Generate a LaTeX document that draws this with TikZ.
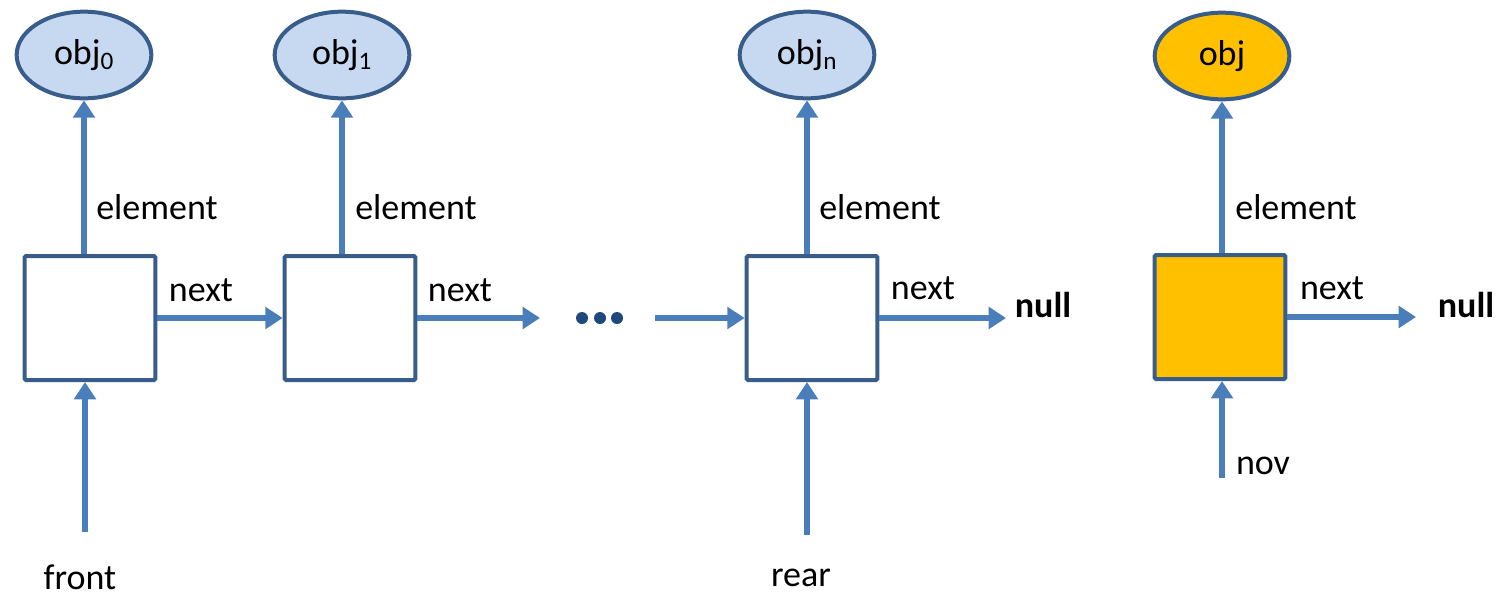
\documentclass[tikz,border=0pt]{standalone}
\usepackage{fontspec}
\setmainfont{Carlito}
\usetikzlibrary{arrows.meta,shapes.geometric}
\definecolor{ptrblue}{RGB}{74,126,187}
\definecolor{edgeblue}{RGB}{56,93,138}
\definecolor{objblue}{RGB}{198,217,241}
\definecolor{newgold}{RGB}{255,192,0}
\definecolor{dotblue}{RGB}{31,73,125}

\begin{document}
\begin{tikzpicture}[x=0.75pt,y=-0.75pt,
every node/.style={font=\fontsize{27}{32}\selectfont},
cell/.style={draw=edgeblue,line width=3pt,rounded corners=1pt,fill=white,minimum width=98pt,minimum height=93pt,inner sep=0pt},
obj/.style={ellipse,draw=edgeblue,line width=3pt,fill=objblue,minimum width=101pt,minimum height=65pt,inner sep=0pt},
ptr/.style={ptrblue,line width=4.5pt,-{Triangle[length=13pt,width=16pt]}}]
\useasboundingbox (0,0) rectangle (1501,597);
% objects
\node[obj] (O0) at (84,55) {obj\textsubscript{0}};
\node[obj] (O1) at (342,55) {obj\textsubscript{1}};
\node[obj] (On) at (807,55) {obj\textsubscript{n}};
\node[obj,fill=newgold] (Onew) at (1222,56) {obj};
% cells
\node[cell] (B0) at (90,318) {};
\node[cell] (B1) at (350,318) {};
\node[cell] (Bn) at (812,318) {};
\node[cell,fill=newgold] (Bnew) at (1220,317) {};
% labels
\node (E0) at (157,207) {element};
\node (E1) at (416,207) {element};
\node (En) at (880,207) {element};
\node (Enew) at (1296,207) {element};
\node (N0) at (201,290) {next};
\node (N1) at (460,290) {next};
\node (Nn) at (923,288) {next};
\node (Nnew) at (1332,288) {next};
\node (null1) at (1043,305) {\textbf{null}};
\node (null2) at (1466,305) {\textbf{null}};
\node (front) at (80,577) {front};
\node (rear) at (801,578) {rear};
\node (nov) at (1263,466) {nov};
\coordinate (fr) at (85,532);
\coordinate (re) at (807,535);
\coordinate (nv) at (1222,478);
\coordinate (gap1) at (540,318);
\coordinate (gap2) at (655,318);
\coordinate (end1) at (1006,318);
\coordinate (end2) at (1416,317);
% dots
\fill[dotblue] (582,318) circle (4.5pt) (600,318) circle (4.5pt) (617,318) circle (4.5pt);
% element pointers
\draw[ptr] (O0.south |- B0.north) -- (O0.south);
\draw[ptr] (O1.south |- B1.north) -- (O1.south);
\draw[ptr] (On.south |- Bn.north) -- (On.south);
\draw[ptr] (Onew.south |- Bnew.north) -- (Onew.south);
% next pointers
\draw[ptr] (B0.east) -- (B1.west);
\draw[ptr] (B1.east) -- (gap1);
\draw[ptr] (gap2) -- (Bn.west);
\draw[ptr] (Bn.east) -- (end1);
\draw[ptr] (Bnew.east) -- (end2);
% front, rear, nov
\draw[ptr] (fr) -- (fr |- B0.south);
\draw[ptr] (re) -- (re |- Bn.south);
\draw[ptr] (nv) -- (nv |- Bnew.south);
\end{tikzpicture}
\end{document}
